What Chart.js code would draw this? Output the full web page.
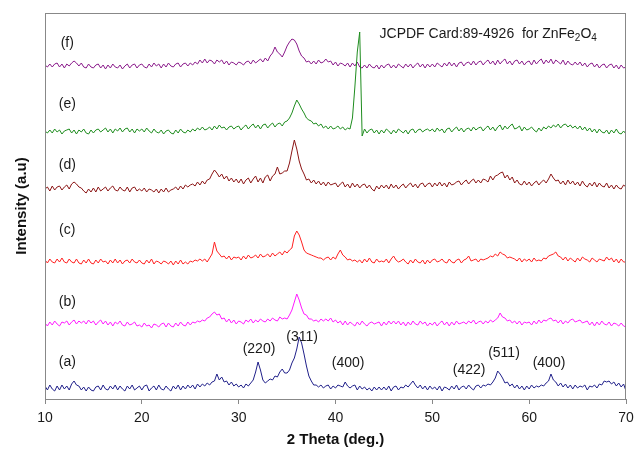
<!DOCTYPE html>
<html>
<head>
<meta charset="utf-8">
<script src="https://cdn.jsdelivr.net/npm/chart.js@4"></script>
<style>
    html, body { margin: 0; padding: 0; background: #fff; }
</style>
</head>
<body>
<canvas id="xrdChartCanvas" width="644" height="451"></canvas>
<script>
// scan grid: 10 to 70 deg, 0.25 deg step
const twoThetaStart = 10;
const twoThetaStep = 0.25;
const xTicks = [10, 20, 30, 40, 50, 60, 70];

const traceLabels = ['(a)', '(b)', '(c)', '(d)', '(e)', '(f)'];
const traceColors = ['#20208a', '#ff1aff', '#ff2020', '#8b1515', '#1e8c1e', '#8a1a8a'];
// vertical shift of each pattern in the stack
const traceOffsets = [11, 75, 137, 210, 267, 333];

const intensityA = [
    2, -2, 3, -1, -3, 2, -2, 3, -1, 2, -2, 4, 7, 3, 2, -2, 1, -3, 1, -2,
    -3, 1, 2, -2, 3, -1, -2, 2, -1, 3, -2, 2, -1, -3, 2, -1, 3, -2, 0, 2,
    -2, 2, 3, -3, 0, 2, -2, 3, -1, -2, 2, -1, -3, 2, -1, 3, -2, 2, -1, 3,
    0, 3, -1, 4, 1, 4, 2, 5, 3, 6, 7, 14, 8, 11, 6, 7, 3, 6, 2, 4,
    1, 3, 0, 4, 2, 5, 8, 16, 26, 18, 8, 5, 7, 9, 8, 12, 11, 16, 19, 15,
    15, 18, 25, 30, 39, 51, 45, 34, 22, 12, 7, 3, 3, 1, 3, 0, 2, 3, -1, 2,
    0, 3, 2, 1, 6, 2, 0, 2, 3, -2, 2, -1, 1, -2, 0, -3, 1, -2, 1, -2,
    1, -2, 2, -3, 1, 2, -2, 1, 0, 3, 1, 4, 7, 3, 0, 3, -1, 2, -2, 2,
    -1, 1, -2, 2, -3, 1, 0, -2, 2, -1, 3, -2, 1, 2, -1, 3, 0, -2, 2, 3,
    0, 3, 2, 4, 3, 6, 10, 17, 14, 10, 5, 6, 2, 4, 0, 3, -1, 2, -2, 2,
    -1, 3, 0, 2, 1, 3, 2, 5, 7, 14, 8, 6, 2, 5, 1, 4, 0, 3, -1, 3,
    0, 2, 1, 3, -2, 2, 1, 3, 0, 4, 3, 7, 6, 7, 4, 6, 2, 5, 1, 4,
    -3
];
const intensityB = [
    1, -2, 2, -1, 3, 0, -2, 2, 1, 3, -1, 2, 4, 0, 3, 1, 3, 0, 4, 1,
    3, -1, 2, 4, 0, 3, -1, 2, -2, 2, 0, 3, -1, -2, 2, -1, 0, 2, -2, -1,
    -3, 1, -2, -1, -4, 0, -1, -3, 0, 1, -3, 1, -2, -3, 1, -2, 2, -1, -2, 2,
    -1, 2, 1, 3, 2, 4, 3, 6, 7, 10, 12, 9, 10, 5, 6, 2, 5, 1, 4, 0,
    3, 2, 0, 4, 2, 5, 1, 4, 2, 5, 3, 2, 5, 3, 6, 4, 3, 7, 5, 6,
    5, 9, 14, 22, 30, 24, 16, 10, 9, 5, 5, 3, 4, 2, 5, 3, 5, 3, 6, 2,
    4, 1, 3, -1, 3, -1, 2, 0, -2, 2, -1, 3, 0, -2, 1, 2, 0, 1, 2, -2,
    2, -1, 3, 0, 3, 0, 3, -1, 2, -2, 2, -1, 3, 0, -1, 3, 0, 2, -2, 1,
    -1, 2, -2, 1, 3, -1, 2, -2, 2, -1, 3, 0, 1, 2, 0, 3, 1, 4, 0, 2,
    3, 0, 3, 1, 4, 2, 4, 6, 11, 7, 6, 3, 4, 1, 3, 0, 3, -1, 2, 1,
    2, -1, 3, 0, 4, 1, 4, 3, 5, 6, 3, 4, 1, 4, 0, 3, 1, 4, 5, 2,
    3, 4, 1, 2, 3, -1, 2, -2, 2, -1, 3, 0, -1, 2, -2, 1, 0, -2, 1, -2,
    -3
];
const intensityC = [
    2, -1, 3, 0, -1, 3, 0, 4, 0, -1, 3, 0, -1, 3, -1, -2, 2, -1, 3, -1,
    -2, 2, -1, 3, 0, 1, -2, 2, -1, 3, -1, 2, -2, 1, 2, -1, 3, 0, -1, 2,
    -1, -2, 2, -1, 3, -2, 1, 0, -2, 1, 0, -2, 1, -3, 1, -2, 2, -2, 0, -2,
    1, 0, 2, 1, 3, 1, 3, 0, 4, 8, 20, 11, 8, 5, 6, 3, 6, 2, 5, 4,
    5, 2, 6, 3, 7, 4, 5, 7, 4, 8, 5, 6, 8, 5, 9, 6, 8, 10, 7, 11,
    9, 12, 14, 26, 31, 27, 20, 12, 9, 8, 7, 6, 5, 4, 4, 2, 4, 5, 2, 5,
    3, 8, 12, 7, 5, 2, 3, 1, 2, 0, 2, -1, 3, 0, 4, 0, -1, 3, 0, 1,
    0, 3, -1, 3, 6, 2, 0, 1, 3, 0, -2, 2, -1, 3, 0, -1, 2, -2, 2, -1,
    2, 3, 0, 1, 3, 0, -1, 3, 0, -1, 2, 3, -1, 2, 3, 6, 1, 2, 3, 0,
    3, 2, 3, 4, 6, 5, 8, 6, 10, 8, 7, 4, 5, 4, 3, 1, 4, 0, 3, 1,
    3, 0, 4, 1, 2, 1, 4, 3, 6, 7, 8, 10, 6, 5, 2, 5, 1, 4, 2, 0,
    4, 1, 5, 3, 2, 0, 4, 2, 0, 3, 2, 1, 5, 2, 4, 0, 3, -1, 3, 0,
    0
];
const intensityD = [
    0, 2, -2, 3, -1, 2, 3, -1, 2, 4, 0, 5, 7, 5, 2, 1, -2, -4, 0, -3,
    1, -3, 2, -2, 0, 2, -2, 1, 3, -1, -2, 2, -1, -2, 2, -3, 1, 2, -2, 0,
    -2, 1, -3, 0, -1, -3, 0, -4, 0, -3, 1, -3, -1, 0, 2, -1, 3, 0, 4, 2,
    4, 5, 3, 7, 4, 8, 5, 9, 10, 15, 19, 16, 12, 15, 10, 13, 8, 11, 7, 10,
    6, 10, 5, 9, 11, 6, 10, 13, 7, 11, 6, 12, 14, 8, 13, 15, 22, 15, 16, 18,
    18, 26, 38, 49, 40, 28, 20, 15, 9, 10, 6, 9, 5, 8, 4, 7, 3, 7, 4, 5,
    6, 2, 5, 7, 2, 5, 1, 6, 2, 5, 1, 4, 5, 1, 4, 0, -2, 3, 0, 4,
    1, 4, 0, 5, 1, 4, 0, 3, 5, 1, 4, 6, 2, 5, 1, 5, 6, 2, 5, 6,
    2, 6, 3, 7, 3, 6, 2, 7, 4, 5, 7, 8, 4, 7, 9, 5, 8, 10, 6, 9,
    6, 10, 9, 7, 13, 9, 13, 14, 16, 17, 11, 14, 9, 12, 6, 9, 5, 4, 8, 4,
    7, 3, 6, 8, 4, 7, 9, 6, 10, 15, 11, 8, 9, 5, 8, 4, 9, 5, 8, 4,
    7, 3, 8, 4, 2, 6, 3, 7, 2, 6, 3, 2, 6, 1, 4, 0, 4, 1, 0, 4,
    2
];
const intensityE = [
    1, -1, 2, -1, 3, 0, 2, -2, 1, 2, 3, -1, 2, -2, 2, 0, 3, -1, -2, 2,
    -1, 2, 3, 0, 2, 4, 0, 3, -1, 3, 1, 4, 0, 3, 4, 0, 3, -1, 3, 1,
    3, 0, 4, 1, -1, 3, 0, -1, 2, -2, 1, 2, -1, -2, 2, -1, 3, 0, -1, 2,
    0, 3, 1, 4, 2, 5, 2, 3, 5, 2, 6, 3, 7, 4, 5, 2, 5, 6, 3, 5,
    6, 2, 5, 7, 3, 6, 8, 4, 7, 3, 7, 8, 4, 7, 9, 5, 8, 9, 6, 10,
    11, 14, 19, 26, 32, 28, 23, 19, 14, 12, 11, 8, 9, 6, 8, 4, 6, 3, 6, 3,
    4, 6, 3, 5, 2, 4, 3, 14, 45, 80, 100, -4, 3, -1, 2, 3, -1, 2, -2, 2,
    -1, 3, 1, -2, 2, -1, 3, 1, -1, 2, -2, 2, 3, -1, 2, 3, 0, 2, 3, 1,
    3, 0, 4, 1, 3, -1, 3, 4, 0, 3, 5, 1, 4, 0, 3, 4, 1, 5, 2, 4,
    5, 1, 4, 6, 2, 5, 1, 5, 7, 2, 6, 3, 6, 8, 3, 4, 6, 1, 5, 2,
    3, 5, 2, 0, 4, 1, 5, 3, 6, 4, 7, 5, 8, 4, 7, 8, 5, 7, 4, 6,
    3, 6, 2, 5, 1, 4, 0, 3, -1, 3, 0, -1, 2, -2, 2, -1, 3, -1, -2, 1,
    -2
];
const intensityF = [
    1, -1, 2, -1, 2, 3, -1, 2, -2, 2, 0, 3, 5, 3, 0, 3, -1, -2, 2, -1,
    -2, 1, 2, -2, 1, -3, 1, -2, 2, -1, -2, 1, -3, 0, 2, -2, 1, 2, -2, 1,
    2, -1, -2, 2, -1, 3, 0, 2, -2, 2, -1, 3, 0, -1, 2, 3, -1, 2, 3, 0,
    3, 1, 4, 2, 6, 3, 7, 3, 6, 5, 2, 6, 4, 6, 2, 5, 1, 4, 3, 1,
    4, 3, 1, 4, 5, 2, 6, 3, 5, 7, 4, 8, 5, 10, 13, 19, 14, 12, 9, 14,
    20, 24, 27, 26, 22, 15, 10, 8, 4, 5, 2, 5, 2, 6, 3, 4, 7, 4, 5, 1,
    4, 0, 3, 2, 0, 3, -1, 3, 0, 4, -1, -2, 1, -2, 2, -1, -2, 1, -3, 1,
    -2, 1, 2, -2, 1, -2, 2, 0, -2, 2, -1, 2, -2, 1, 3, -1, 2, -2, 2, -1,
    2, -1, 3, 1, -1, 3, 0, 4, 0, 3, -1, 3, 4, 0, 3, 4, 1, 5, 1, 4,
    5, 1, 4, 6, 2, 5, 1, 6, 2, 5, 7, 2, 5, 1, 5, 6, 2, 5, 1, 4,
    5, 1, 6, 2, 5, 7, 2, 6, 3, 7, 2, 6, 4, 2, 6, 1, 5, 2, 1, 4,
    1, 4, 0, 3, -1, 2, 3, -1, 2, -2, 1, 2, -2, 1, 2, -2, 1, -3, 1, -2,
    -1
];

const peakLabels = ['(220)', '(311)', '(400)', '(422)', '(511)', '(400)'];
const peakTwoTheta = [32.1, 36.55, 41.3, 53.8, 57.4, 62.05];
const peakLabelY = [50, 62, 36, 29, 46, 36];

const allIntensities = [intensityA, intensityB, intensityC, intensityD, intensityE, intensityF];
const traceLabelY = [37, 97, 169, 234, 295, 356];

const fontFamily = '"Liberation Sans", Arial, sans-serif';

const xrdLabels = {
    id: 'xrdLabels',
    afterDatasetsDraw(chart) {
        const { ctx, chartArea, scales: { x, y } } = chart;
        ctx.save();
        // frame round the plot
        ctx.strokeStyle = '#888888';
        ctx.lineWidth = 1;
        ctx.strokeRect(Math.round(chartArea.left) + 0.5, Math.round(chartArea.top) + 0.5,
            Math.round(chartArea.right - chartArea.left) - 1, Math.round(chartArea.bottom - chartArea.top));

        ctx.fillStyle = '#1a1a1a';
        ctx.font = '14px ' + fontFamily;
        ctx.textAlign = 'center';
        ctx.textBaseline = 'middle';
        traceLabels.forEach((t, i) => {
            ctx.fillText(t, x.getPixelForValue(12.3), y.getPixelForValue(traceLabelY[i]));
        });
        peakLabels.forEach((t, i) => {
            ctx.fillText(t, x.getPixelForValue(peakTwoTheta[i]), y.getPixelForValue(peakLabelY[i]));
        });

        // JCPDF note with subscripts
        ctx.textAlign = 'left';
        ctx.textBaseline = 'alphabetic';
        let px = x.getPixelForValue(44.55);
        const py = y.getPixelForValue(361);
        const parts = [['JCPDF Card:89-4926  for ZnFe', false], ['2', true], ['O', false], ['4', true]];
        parts.forEach(([s, sub]) => {
            ctx.font = (sub ? '10px ' : '14px ') + fontFamily;
            ctx.fillText(s, px, sub ? py + 3 : py);
            px += ctx.measureText(s).width;
        });
        ctx.restore();
    }
};

document.addEventListener('DOMContentLoaded', () => {
    const ctx = document.getElementById('xrdChartCanvas').getContext('2d');
    const datasets = allIntensities.map((vals, i) => ({
        label: traceLabels[i],
        data: vals.map((v, k) => ({ x: twoThetaStart + k * twoThetaStep, y: v + traceOffsets[i] })),
        borderColor: traceColors[i],
        borderWidth: 1,
        pointRadius: 0,
        tension: 0,
        fill: false
    }));

    new Chart(ctx, {
        type: 'line',
        data: { datasets },
        options: {
            responsive: false,
            animation: false,
            layout: { padding: { top: 13, right: 18, left: 0, bottom: 0 } },
            plugins: { legend: { display: false }, tooltip: { enabled: false } },
            scales: {
                x: {
                    type: 'linear',
                    min: xTicks[0],
                    max: xTicks[xTicks.length - 1],
                    afterFit: (s) => { s.height = 52; },
                    afterBuildTicks: (s) => { s.ticks = xTicks.map(v => ({ value: v })); },
                    ticks: {
                        font: { family: fontFamily, size: 14 },
                        color: '#1a1a1a',
                        padding: 6,
                        maxRotation: 0
                    },
                    grid: { drawOnChartArea: false, tickLength: 5, color: '#888888' },
                    border: { display: false },
                    title: {
                        display: true,
                        text: '2 Theta (deg.)',
                        font: { family: fontFamily, size: 15, weight: 'bold' },
                        color: '#111111',
                        padding: { top: 0, bottom: 2 }
                    }
                },
                y: {
                    min: 0,
                    max: 386,
                    afterFit: (s) => { s.width = 45; },
                    ticks: { display: false },
                    grid: { display: false },
                    border: { display: false },
                    title: {
                        display: true,
                        text: 'Intensity (a.u)',
                        font: { family: fontFamily, size: 15, weight: 'bold' },
                        color: '#111111',
                        padding: { top: 13, bottom: 0 }
                    }
                }
            }
        },
        plugins: [xrdLabels]
    });
});
</script>
</body>
</html>
